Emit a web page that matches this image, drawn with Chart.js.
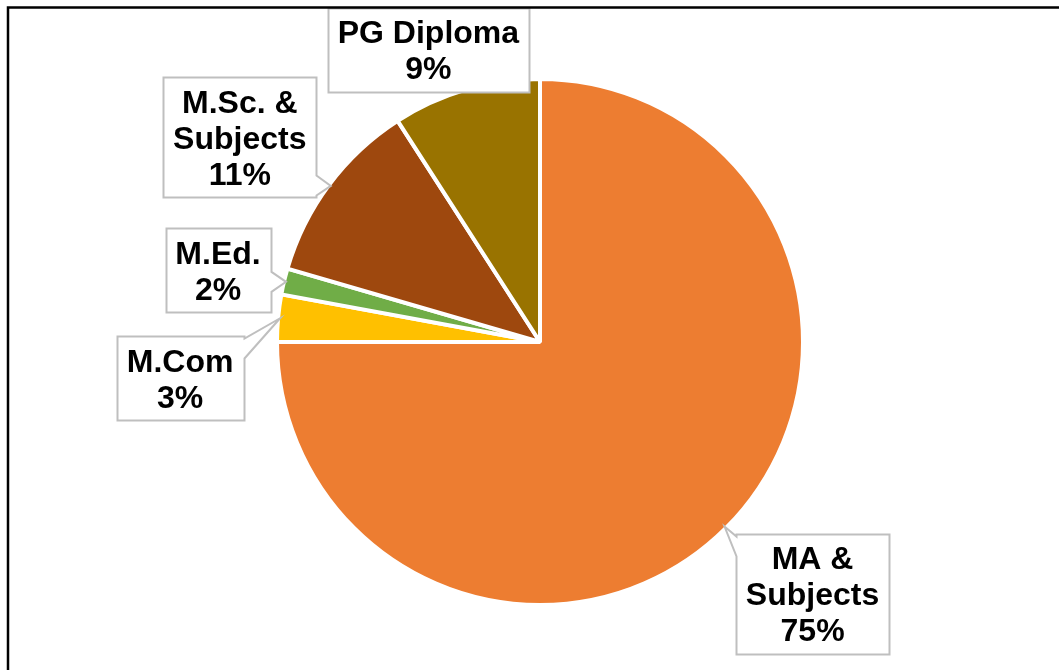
<!DOCTYPE html>
<html>
<head>
<meta charset="utf-8">
<script src="https://cdn.jsdelivr.net/npm/chart.js@4.4.0/dist/chart.umd.min.js"></script>
<style>
  html, body { margin: 0; padding: 0; background: #fff; }
  canvas { display: block; }
</style>
</head>
<body>
<canvas id="pieChart" width="1059" height="670"></canvas>
<script>
/**
 *  ! Data
 * **/
const categories = ["MA & Subjects", "M.Com", "M.Ed.", "M.Sc. & Subjects", "PG Diploma"];
const labelLines = [["MA &", "Subjects"], ["M.Com"], ["M.Ed."], ["M.Sc. &", "Subjects"], ["PG Diploma"]];
const shares = [75.0, 2.9, 1.6, 11.4, 9.1];
const sliceColors = ["#ED7D31", "#FFC000", "#70AD47", "#9E480E", "#997300"];

// where each callout box sits, relative to the edge point of its slice
const labelOffsets = [[88, 67], [-100, 60], [-68, -12], [-91, -49], [-38, -42]];

const FONT = "bold 32px 'Liberation Sans', Arial, sans-serif";
const LINE_H = 36;

/**
 *  ! Callout labels
 * **/
const calloutPlugin = {
  id: "callouts",
  afterDatasetsDraw(chart) {
    const ctx = chart.ctx;
    const meta = chart.getDatasetMeta(0);
    const data = chart.data.datasets[0].data;
    const total = data.reduce((a, b) => a + b, 0);

    ctx.save();
    ctx.font = FONT;
    meta.data.forEach((arc, i) => {
      const p = arc.getProps(["x", "y", "startAngle", "endAngle", "outerRadius"], true);
      const mid = (p.startAngle + p.endAngle) / 2;
      const r = p.outerRadius - 2;
      const ax = p.x + Math.cos(mid) * r;
      const ay = p.y + Math.sin(mid) * r;

      const lines = labelLines[i].concat([Math.round((data[i] / total) * 100) + "%"]);
      let w = 0;
      lines.forEach((t) => { w = Math.max(w, ctx.measureText(t).width); });
      const bw = Math.round(w + 20);
      const bh = lines.length * LINE_H + 12;
      const cx = ax + labelOffsets[i][0];
      const cy = ay + labelOffsets[i][1];
      const left = Math.round(cx - bw / 2) + 0.5;
      const top = Math.round(cy - bh / 2) + 0.5;
      const right = left + bw;
      const bottom = top + bh;

      // box path, with a wedge pointing to the slice when the anchor is outside
      ctx.beginPath();
      ctx.moveTo(left, top);
      ctx.lineTo(right, top);
      if (ax > right) {
        const my = Math.min(Math.max(ay, top + 12), bottom - 12);
        ctx.lineTo(right, my - 10);
        ctx.lineTo(ax, ay);
        ctx.lineTo(right, my + 10);
      }
      ctx.lineTo(right, bottom);
      ctx.lineTo(left, bottom);
      if (ax < left) {
        const my = Math.min(Math.max(ay, top + 12), bottom - 12);
        ctx.lineTo(left, my + 10);
        ctx.lineTo(ax, ay);
        ctx.lineTo(left, my - 10);
      }
      ctx.closePath();
      ctx.fillStyle = "#ffffff";
      ctx.fill();
      ctx.lineWidth = 2;
      ctx.strokeStyle = "#BFBFBF";
      ctx.stroke();

      ctx.fillStyle = "#000000";
      ctx.textAlign = "center";
      ctx.textBaseline = "middle";
      const startY = cy - ((lines.length - 1) * LINE_H) / 2;
      lines.forEach((t, k) => {
        ctx.fillText(t, cx, startY + k * LINE_H + 3);
      });
    });

    // outer chart frame
    ctx.lineWidth = 2.5;
    ctx.strokeStyle = "#000000";
    ctx.strokeRect(8, 7.5, 1200, 800);
    ctx.restore();
  },
};

/**
 *  ! Pie Chart
 * **/
const ctx = document.getElementById("pieChart");

new Chart(ctx, {
  type: "pie",
  data: {
    labels: categories,
    datasets: [
      {
        data: shares,
        backgroundColor: sliceColors,
        borderColor: "#ffffff",
        borderWidth: 4,
      },
    ],
  },
  options: {
    responsive: false,
    animation: false,
    layout: {
      padding: { top: 77, bottom: 63, left: 275, right: 254 },
    },
    plugins: {
      legend: { display: false },
      tooltip: { enabled: false },
    },
  },
  plugins: [calloutPlugin],
});
</script>
</body>
</html>
